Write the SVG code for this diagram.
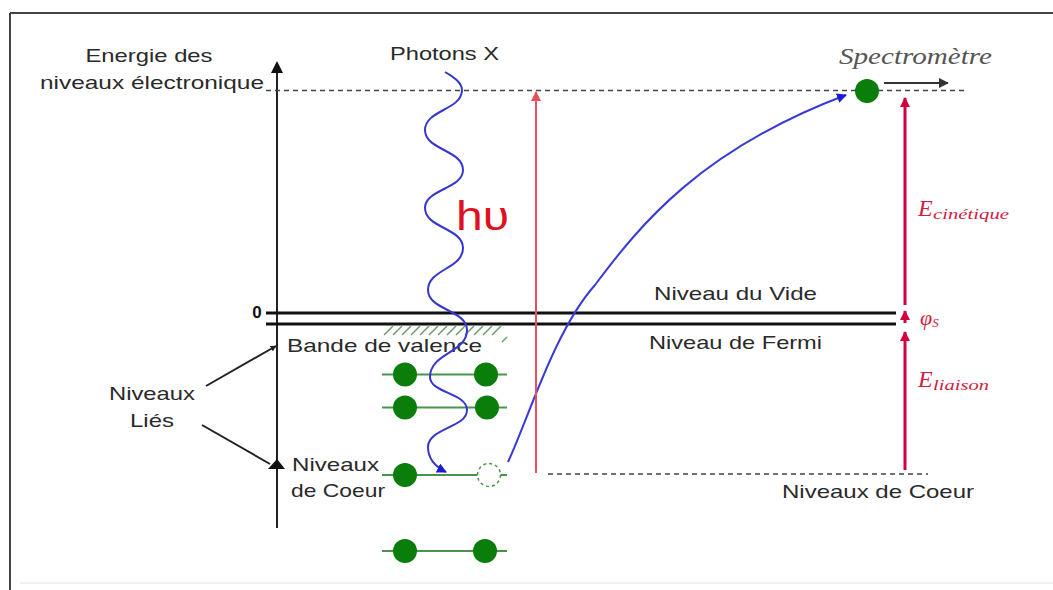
<svg xmlns="http://www.w3.org/2000/svg" width="1053" height="590" viewBox="0 0 1053 590">
<defs>
<style>
.lbl{font-family:"Liberation Sans",Arial,sans-serif;font-size:19px;fill:#2a2a2a}
.ital{font-family:"Liberation Serif","Times New Roman",serif;font-style:italic}
.lvl{stroke:#111;stroke-width:3}
.eline{stroke:#4a944a;stroke-width:2}
.dot{fill:#0b7d0b}
.hatch{stroke:#6a9a6a;stroke-width:1.5}
</style>
<marker id="ablk" viewBox="0 0 10 10" refX="9" refY="5" markerWidth="6" markerHeight="6" orient="auto" markerUnits="userSpaceOnUse"><path d="M0,0L10,5L0,10z" fill="#222"/></marker>
<marker id="ablk2" viewBox="0 0 10 10" refX="9" refY="5" markerWidth="12" markerHeight="10" orient="auto" markerUnits="userSpaceOnUse"><path d="M0,0L10,5L0,10z" fill="#333"/></marker>
<marker id="ared" viewBox="0 0 10 10" refX="9" refY="5" markerWidth="10" markerHeight="10" orient="auto" markerUnits="userSpaceOnUse"><path d="M0,0L10,5L0,10z" fill="#d3003f"/></marker>
<marker id="ared2" viewBox="0 0 10 10" refX="9" refY="5" markerWidth="10" markerHeight="10" orient="auto" markerUnits="userSpaceOnUse"><path d="M0,0L10,5L0,10z" fill="#e8505e"/></marker>
<marker id="ablue" viewBox="0 0 10 10" refX="9" refY="5" markerWidth="10" markerHeight="10" orient="auto" markerUnits="userSpaceOnUse"><path d="M0,0L10,5L0,10z" fill="#1a1ad8"/></marker>
</defs>
<rect width="1053" height="590" fill="#fff"/>
<g id="frame">
<line x1="10" y1="13" x2="1053" y2="13" stroke="#444" stroke-width="2"/>
<line x1="10" y1="13" x2="10" y2="590" stroke="#444" stroke-width="2"/>
<line x1="20" y1="583" x2="1053" y2="583" stroke="#e2e2e2" stroke-width="1"/>
</g>
<g id="axis">
<line x1="277" y1="528" x2="277" y2="70" stroke="#222" stroke-width="2"/>
<path d="M271,73 L277,61 L283,73z" fill="#111"/>
<text class="lbl" x="149" y="62" text-anchor="middle" textLength="127" lengthAdjust="spacingAndGlyphs">Energie des</text>
<text class="lbl" x="40" y="89" textLength="224" lengthAdjust="spacingAndGlyphs">niveaux électronique</text>
<text x="257" y="318" text-anchor="middle" style="font-family:'Liberation Sans',Arial,sans-serif;font-size:17px;font-weight:bold;fill:#111">0</text>
</g>
<g id="levels">
<line x1="266" y1="90.5" x2="966" y2="90.5" stroke="#444" stroke-width="1.6" stroke-dasharray="5,4"/>
<line class="lvl" x1="266" y1="313" x2="896" y2="313"/>
<line class="lvl" x1="266" y1="324" x2="896" y2="324"/>
<line x1="548" y1="474" x2="928" y2="474" stroke="#444" stroke-width="1.6" stroke-dasharray="5,4"/>
<text class="lbl" x="654" y="300" textLength="163" lengthAdjust="spacingAndGlyphs">Niveau du Vide</text>
<text class="lbl" x="649" y="349" textLength="173" lengthAdjust="spacingAndGlyphs">Niveau de Fermi</text>
<text class="lbl" x="782" y="498" textLength="192" lengthAdjust="spacingAndGlyphs">Niveaux de Coeur</text>
</g>
<g id="valence">
<g class="hatch">
<line x1="384" y1="335" x2="393" y2="326"/><line x1="393" y1="335" x2="402" y2="326"/><line x1="402" y1="335" x2="411" y2="326"/><line x1="411" y1="335" x2="420" y2="326"/><line x1="420" y1="335" x2="429" y2="326"/><line x1="429" y1="335" x2="438" y2="326"/><line x1="438" y1="335" x2="447" y2="326"/><line x1="447" y1="335" x2="456" y2="326"/><line x1="456" y1="335" x2="465" y2="326"/><line x1="465" y1="335" x2="474" y2="326"/><line x1="474" y1="335" x2="483" y2="326"/><line x1="483" y1="335" x2="492" y2="326"/><line x1="492" y1="335" x2="501" y2="326"/><line x1="502" y1="342" x2="507" y2="337"/>
</g>
<text class="lbl" x="287" y="352" textLength="195" lengthAdjust="spacingAndGlyphs">Bande de valence</text>
</g>
<g id="electrons">
<line class="eline" x1="382" y1="374.5" x2="507" y2="374.5"/>
<circle class="dot" cx="405" cy="374.5" r="12"/><circle class="dot" cx="486" cy="374.5" r="12"/>
<line class="eline" x1="382" y1="407.5" x2="507" y2="407.5"/>
<circle class="dot" cx="405" cy="407.5" r="12"/><circle class="dot" cx="487" cy="407.5" r="12"/>
<line class="eline" x1="382" y1="475" x2="507" y2="475"/>
<circle class="dot" cx="405" cy="475" r="12"/>
<circle cx="489" cy="475" r="11.5" fill="#fff" stroke="#4a944a" stroke-width="1.5" stroke-dasharray="3,3"/>
<line class="eline" x1="382" y1="551" x2="507" y2="551"/>
<circle class="dot" cx="405" cy="551" r="12"/><circle class="dot" cx="485" cy="551" r="12"/>
</g>
<g id="lies">
<text class="lbl" x="152" y="400" text-anchor="middle" textLength="86" lengthAdjust="spacingAndGlyphs">Niveaux</text>
<text class="lbl" x="152" y="427" text-anchor="middle" textLength="44" lengthAdjust="spacingAndGlyphs">Liés</text>
</g>
<g id="coeur">
<text class="lbl" x="292" y="471" textLength="87" lengthAdjust="spacingAndGlyphs">Niveaux</text>
<text class="lbl" x="291" y="497" textLength="94" lengthAdjust="spacingAndGlyphs">de Coeur</text>
</g>
<g id="photon">
<text class="lbl" x="390" y="60" textLength="109" lengthAdjust="spacingAndGlyphs">Photons X</text>
<text x="456" y="230" textLength="53" lengthAdjust="spacingAndGlyphs" style="font-family:'Liberation Sans',Arial,sans-serif;font-size:40px;fill:#e0101e">hυ</text>
</g>
<g id="spectro">
<text class="ital" x="839" y="64" textLength="153" lengthAdjust="spacingAndGlyphs" style="font-size:24px;fill:#555">Spectromètre</text>
<circle class="dot" cx="867" cy="91" r="12"/>
</g>
<g id="energies">
<text class="ital" x="918" y="216" style="fill:#d3203f;font-size:24px">E</text>
<text class="ital" x="933" y="219" textLength="76" lengthAdjust="spacingAndGlyphs" style="fill:#d3203f;font-size:15px">cinétique</text>
<text class="ital" x="918" y="387" style="fill:#d3203f;font-size:24px">E</text>
<text class="ital" x="933" y="390" textLength="56" lengthAdjust="spacingAndGlyphs" style="fill:#d3203f;font-size:15px">liaison</text>
<text class="ital" x="920" y="325" style="fill:#d3203f;font-size:22px">φ<tspan font-size="13" dy="2">S</tspan></text>
</g>
<g id="connectors" fill="none">
<path d="M445,72 C452,76 462,82 462,90 C462,110 425,110 425,130 C425,150 463,150 463,170 C463,189 425,189 425,208 C425,228 463,228 463,248 C463,269 428,269 428,290 C428,310 467,310 467,330 C467,353 430,353 430,377 C430,393 467,393 467,410 C467,428 428,428 428,447 C428,460 436,467 446,472" stroke="#3636d0" stroke-width="2" marker-end="url(#ablue)"/>
<path d="M508,462 C530,414 555,330 595,285 C640,225 700,150 846,95" stroke="#3a3ad8" stroke-width="2" marker-end="url(#ablue)"/>
<line x1="536" y1="473" x2="536" y2="92" stroke="#e8505e" stroke-width="2" marker-end="url(#ared2)"/>
<line x1="905" y1="305" x2="905" y2="98" stroke="#d3003f" stroke-width="3" marker-end="url(#ared)"/>
<line x1="905" y1="323" x2="905" y2="311" stroke="#d3003f" stroke-width="3" marker-end="url(#ared)"/>
<line x1="905" y1="470" x2="905" y2="332" stroke="#d3003f" stroke-width="3" marker-end="url(#ared)"/>
<line x1="884" y1="83" x2="948" y2="83" stroke="#333" stroke-width="2" marker-end="url(#ablk2)"/>
<line x1="206" y1="386" x2="276" y2="346" stroke="#222" stroke-width="2" marker-end="url(#ablk)"/>
<line x1="202" y1="425" x2="270" y2="464" stroke="#222" stroke-width="2"/>
<path d="M268,469 L285,469 L277,459z" fill="#111"/>
</g>
</svg>
